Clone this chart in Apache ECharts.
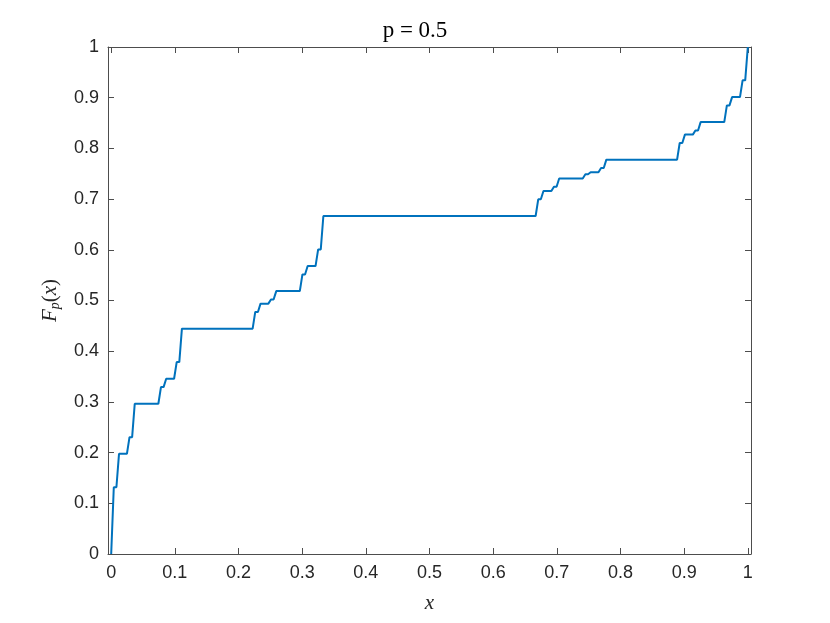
<!DOCTYPE html>
<html>
<head>
<meta charset="utf-8">
<script src="https://cdn.jsdelivr.net/npm/echarts@6/dist/echarts.min.js"></script>
<style>
html,body{margin:0;padding:0;background:#fff;}
#chart{width:830px;height:623px;}
</style>
</head>
<body>
<div id="chart"></div>
<script>
// Step points of F_p(x), p = 0.5
var xValues = [
  0, 0.0041, 0.0082, 0.0123, 0.0247, 0.0288, 0.0329, 0.0370,
  0.0741, 0.0782, 0.0823, 0.0864, 0.0988, 0.1029, 0.1070, 0.1111,
  0.2222, 0.2263, 0.2305, 0.2346, 0.2469, 0.2510, 0.2551, 0.2593,
  0.2963, 0.3004, 0.3045, 0.3086, 0.3210, 0.3251, 0.3292, 0.3333,
  0.6667, 0.6708, 0.6749, 0.6790, 0.6914, 0.6955, 0.6996, 0.7037,
  0.7407, 0.7449, 0.7490, 0.7531, 0.7654, 0.7695, 0.7737, 0.7778,
  0.8889, 0.8930, 0.8971, 0.9012, 0.9136, 0.9177, 0.9218, 0.9259,
  0.9630, 0.9671, 0.9712, 0.9753, 0.9877, 0.9918, 0.9959, 1
];
var yValues = [
  0, 0.1317, 0.1317, 0.1975, 0.1975, 0.2305, 0.2305, 0.2963,
  0.2963, 0.3292, 0.3292, 0.3457, 0.3457, 0.3786, 0.3786, 0.4444,
  0.4444, 0.4774, 0.4774, 0.4938, 0.4938, 0.5021, 0.5021, 0.5185,
  0.5185, 0.5514, 0.5514, 0.5679, 0.5679, 0.6008, 0.6008, 0.6667,
  0.6667, 0.6996, 0.6996, 0.7160, 0.7160, 0.7243, 0.7243, 0.7407,
  0.7407, 0.7490, 0.7490, 0.7531, 0.7531, 0.7613, 0.7613, 0.7778,
  0.7778, 0.8107, 0.8107, 0.8272, 0.8272, 0.8354, 0.8354, 0.8519,
  0.8519, 0.8848, 0.8848, 0.9012, 0.9012, 0.9342, 0.9342, 1
];
var xTicks = [0, 0.1, 0.2, 0.3, 0.4, 0.5, 0.6, 0.7, 0.8, 0.9, 1];
var yTicks = [0, 0.1, 0.2, 0.3, 0.4, 0.5, 0.6, 0.7, 0.8, 0.9, 1];
var titleText = 'p = 0.5';

var data = xValues.map(function (x, i) { return [x, yValues[i]]; });

var axisColor = '#4d4d4d';
var serif = 'Liberation Serif, DejaVu Serif, serif';
var labelStyle = { color: '#262626', fontSize: 18, fontFamily: 'Liberation Sans, Arial, sans-serif' };

function xAx(pos, show) {
  return {
    type: 'value', position: pos, min: -0.005, max: 1.005,
    axisLine: { show: true, onZero: false, lineStyle: { color: axisColor, width: 1 } },
    axisTick: { show: true, inside: true, length: 6, customValues: xTicks, lineStyle: { color: axisColor } },
    axisLabel: show ? Object.assign({ show: true, margin: 10, customValues: xTicks }, labelStyle) : { show: false },
    splitLine: { show: false }
  };
}
function yAx(pos, show) {
  return {
    type: 'value', position: pos, min: 0, max: 1,
    axisLine: { show: true, onZero: false, lineStyle: { color: axisColor, width: 1 } },
    axisTick: { show: true, inside: true, length: 6, customValues: yTicks, lineStyle: { color: axisColor } },
    axisLabel: show ? Object.assign({ show: true, margin: 9, customValues: yTicks }, labelStyle) : { show: false },
    splitLine: { show: false }
  };
}

var xMain = xAx('bottom', true);
xMain.name = 'x';
xMain.nameLocation = 'middle';
xMain.nameGap = 39;
xMain.nameTextStyle = { fontFamily: serif, fontStyle: 'italic', fontSize: 21, color: '#262626' };

var yMain = yAx('left', true);
yMain.name = '{i|F}{s|p}{n|(}{i|x}{n|)}';
yMain.nameLocation = 'middle';
yMain.nameGap = 46;
yMain.nameRotate = 90;
yMain.nameTextStyle = {
  color: '#262626',
  rich: {
    i: { fontFamily: serif, fontStyle: 'italic', fontSize: 21, color: '#262626', lineHeight: 24 },
    n: { fontFamily: serif, fontSize: 21, color: '#262626', lineHeight: 24 },
    s: { fontFamily: serif, fontStyle: 'italic', fontSize: 14, color: '#262626', lineHeight: 24, verticalAlign: 'bottom', padding: [7, 0, 0, 0] }
  }
};

var chart = echarts.init(document.getElementById('chart'), null, { renderer: 'canvas' });
chart.setOption({
  backgroundColor: '#ffffff',
  animation: false,
  title: {
    text: titleText, left: 'center', top: 14,
    textStyle: { fontFamily: serif, fontWeight: 'normal', fontSize: 23, color: '#000' }
  },
  grid: { left: 108, top: 47, width: 643, height: 507, containLabel: false },
  xAxis: [xMain, xAx('top', false)],
  yAxis: [yMain, yAx('right', false)],
  series: [{
    type: 'line', xAxisIndex: 0, yAxisIndex: 0,
    data: data, showSymbol: false, smooth: false,
    lineStyle: { color: '#0072BD', width: 2 },
    clip: false
  }]
});
</script>
</body>
</html>
